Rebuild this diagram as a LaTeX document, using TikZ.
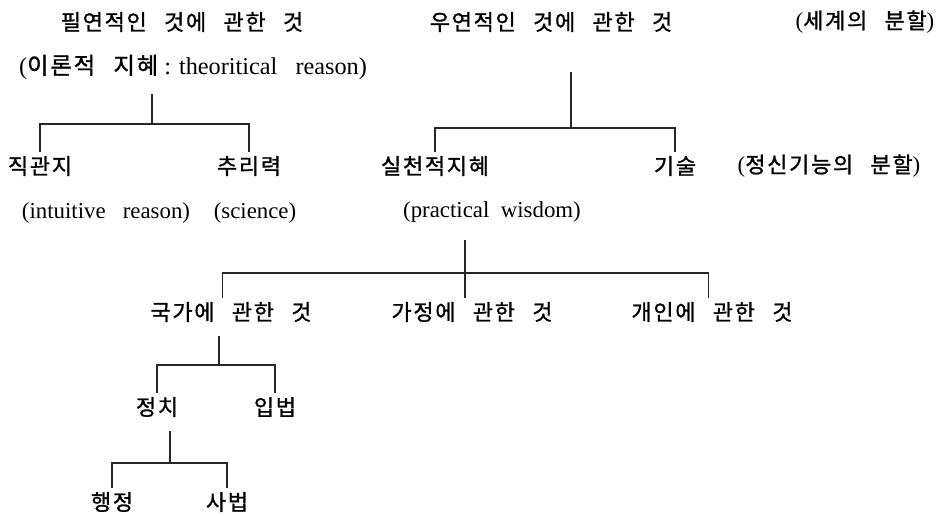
\documentclass[tikz,border=0pt]{standalone}
\usepackage{fontspec}
\setmainfont{Liberation Serif}
\newfontfamily\korfont[Scale=0.96,LetterSpace=8,WordSpace=2.6,FakeBold=1.2]{Noto Sans CJK KR}
\newcommand{\Kor}[1]{{\korfont #1}}

\begin{document}
\begin{tikzpicture}[
    x=0.02cm, y=-0.02cm,
    term/.style={inner sep=2pt, font=\fontsize{13}{15}\selectfont},
    branchline/.style={draw=black!85, line width=0.8pt}
]
\useasboundingbox (0,0) rectangle (944,516);

% 세계의 분할
\node[term] (nec) at (182,22) {\Kor{필연적인 것에 관한 것}};
\node[term] (con) at (551,22) {\Kor{우연적인 것에 관한 것}};
\node[term] (world) at (865,22) {(\Kor{세계의 분할})};
\node[term, font=\fontsize{13.8}{15}\selectfont] (theo) at (193,67) {(\Kor{이론적 지혜}\ : theoritical\ \ \ reason)};

% 정신기능의 분할
\node[term] (intu) at (40,166) {\Kor{직관지}};
\node[term] (reas) at (249,166) {\Kor{추리력}};
\node[term] (prac) at (435,166) {\Kor{실천적지혜}};
\node[term] (tech) at (675,166) {\Kor{기술}};
\node[term] (mind) at (829,166) {(\Kor{정신기능의 분할})};
\node[term] (intuen) at (106,213) {(intuitive\ \ \ reason)};
\node[term] (sci) at (255,213) {(science)};
\node[term] (pw) at (492,212) {(practical\ \ wisdom)};

% 실천적 지혜의 분할
\node[term] (state) at (231,312) {\Kor{국가에 관한 것}};
\node[term] (house) at (472,312) {\Kor{가정에 관한 것}};
\node[term] (indiv) at (712,312) {\Kor{개인에 관한 것}};
\node[term] (pol) at (157,407) {\Kor{정치}};
\node[term] (leg) at (275,407) {\Kor{입법}};
\node[term] (adm) at (112,502) {\Kor{행정}};
\node[term] (jud) at (227,502) {\Kor{사법}};

% 가지
\coordinate (j1) at (152,124);
\coordinate (j2) at (571,128);
\coordinate (j3) at (465,273);
\coordinate (j4) at (219,365);
\coordinate (j5) at (170,463);

\draw[branchline, shorten <=6pt] (theo.south -| j1) -- (j1);
\draw[branchline] (intu.north) |- (j1) -| (reas.north);

\draw[branchline, shorten <=0.72cm] (con.south -| j2) -- (j2);
\draw[branchline] (prac.north) |- (j2) -| (tech.north);

\draw[branchline, shorten <=8pt] (pw.south -| j3) -- (house.north -| j3);
\draw[branchline] ([xshift=-5pt]state.north) |- (j3) -| ([xshift=-2pt]indiv.north);

\draw[branchline, shorten <=6pt] (state.south -| j4) -- (j4);
\draw[branchline] (pol.north) |- (j4) -| (leg.north);

\draw[branchline, shorten <=6pt] (pol.south -| j5) -- (j5);
\draw[branchline] (adm.north) |- (j5) -| (jud.north);

\end{tikzpicture}
\end{document}
